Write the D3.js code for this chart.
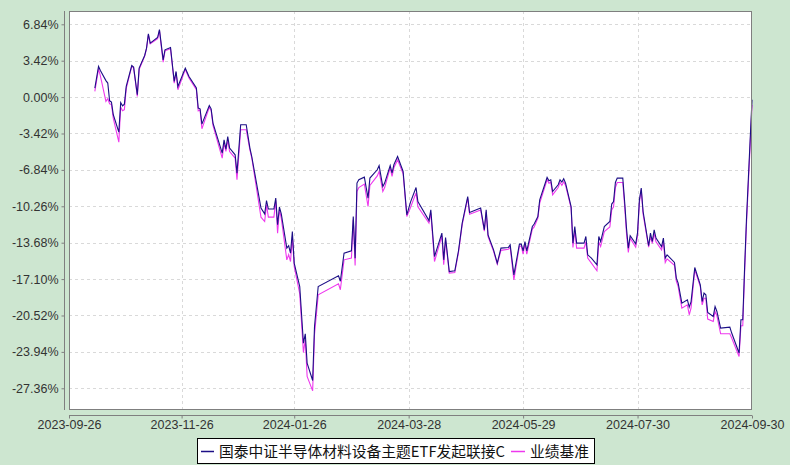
<!DOCTYPE html>
<html><head><meta charset="utf-8">
<script src="https://cdn.jsdelivr.net/npm/d3@7"></script>
<style>
html,body{margin:0;padding:0;background:#cde6d0;}
svg{display:block;}
</style></head>
<body>
<svg id="chart" width="790" height="465"></svg>
<script>
const dates = ["2023-10-10","2023-10-12","2023-10-13","2023-10-16","2023-10-17","2023-10-18","2023-10-19","2023-10-20","2023-10-23","2023-10-24","2023-10-25","2023-10-26","2023-10-27","2023-10-30","2023-10-31","2023-11-02","2023-11-03","2023-11-06","2023-11-07","2023-11-08","2023-11-09","2023-11-13","2023-11-14","2023-11-16","2023-11-17","2023-11-20","2023-11-22","2023-11-23","2023-11-24","2023-11-28","2023-11-30","2023-12-04","2023-12-05","2023-12-06","2023-12-07","2023-12-11","2023-12-12","2023-12-13","2023-12-18","2023-12-19","2023-12-20","2023-12-21","2023-12-22","2023-12-25","2023-12-26","2023-12-28","2023-12-31","2024-01-02","2024-01-03","2024-01-08","2024-01-10","2024-01-11","2024-01-12","2024-01-15","2024-01-16","2024-01-17","2024-01-18","2024-01-19","2024-01-22","2024-01-23","2024-01-24","2024-01-25","2024-01-26","2024-01-29","2024-01-31","2024-02-01","2024-02-02","2024-02-05","2024-02-06","2024-02-08","2024-02-19","2024-02-20","2024-02-22","2024-02-26","2024-02-27","2024-02-28","2024-02-29","2024-03-01","2024-03-04","2024-03-06","2024-03-07","2024-03-11","2024-03-12","2024-03-14","2024-03-15","2024-03-18","2024-03-19","2024-03-20","2024-03-22","2024-03-25","2024-03-27","2024-03-29","2024-04-01","2024-04-02","2024-04-08","2024-04-09","2024-04-11","2024-04-15","2024-04-16","2024-04-17","2024-04-19","2024-04-22","2024-04-24","2024-04-26","2024-04-29","2024-04-30","2024-05-06","2024-05-08","2024-05-09","2024-05-10","2024-05-13","2024-05-15","2024-05-17","2024-05-21","2024-05-22","2024-05-24","2024-05-27","2024-05-28","2024-05-29","2024-05-30","2024-05-31","2024-06-03","2024-06-04","2024-06-06","2024-06-07","2024-06-11","2024-06-12","2024-06-13","2024-06-14","2024-06-17","2024-06-18","2024-06-19","2024-06-20","2024-06-21","2024-06-24","2024-06-25","2024-06-26","2024-06-27","2024-07-01","2024-07-02","2024-07-03","2024-07-05","2024-07-08","2024-07-09","2024-07-10","2024-07-12","2024-07-15","2024-07-16","2024-07-17","2024-07-18","2024-07-19","2024-07-22","2024-07-23","2024-07-24","2024-07-25","2024-07-26","2024-07-29","2024-07-30","2024-07-31","2024-08-01","2024-08-02","2024-08-05","2024-08-06","2024-08-07","2024-08-08","2024-08-09","2024-08-12","2024-08-13","2024-08-14","2024-08-15","2024-08-19","2024-08-20","2024-08-21","2024-08-23","2024-08-26","2024-08-27","2024-08-28","2024-08-30","2024-09-02","2024-09-03","2024-09-04","2024-09-05","2024-09-06","2024-09-09","2024-09-10","2024-09-11","2024-09-13","2024-09-18","2024-09-19","2024-09-23","2024-09-24","2024-09-25","2024-09-26","2024-09-27","2024-09-30"];

const fundValues = [0.85,2.88,2.50,1.55,1.32,-0.35,-0.47,-1.66,-3.29,-0.51,-0.82,-0.66,1.00,2.97,2.82,0.22,2.72,3.91,4.60,5.95,5.07,5.60,6.35,3.50,4.44,4.66,1.47,2.41,1.00,2.72,1.94,0.85,-1.03,-1.10,-2.54,-0.79,-1.10,-2.44,-5.26,-4.01,-4.89,-3.70,-4.79,-5.42,-7.14,-2.60,-2.60,-4.79,-5.58,-10.43,-10.97,-9.72,-10.52,-10.52,-9.49,-12.00,-10.34,-10.97,-14.19,-13.97,-14.66,-12.63,-15.60,-17.80,-23.12,-22.24,-24.99,-26.63,-21.55,-17.80,-16.79,-17.30,-14.66,-14.44,-11.22,-15.13,-8.08,-7.77,-7.52,-9.49,-7.61,-6.83,-6.43,-8.40,-8.08,-6.43,-7.14,-6.36,-5.58,-6.99,-11.06,-9.87,-8.50,-9.81,-11.60,-10.59,-14.98,-12.78,-15.29,-13.19,-16.39,-16.32,-14.44,-11.84,-9.34,-10.84,-10.43,-12.47,-10.59,-12.94,-14.35,-15.60,-14.19,-14.13,-13.88,-16.70,-13.81,-13.81,-14.44,-13.57,-14.44,-12.16,-11.93,-11.22,-9.65,-7.55,-7.86,-7.77,-8.87,-8.24,-7.77,-7.99,-7.68,-8.08,-10.28,-13.72,-12.16,-13.72,-13.72,-13.10,-14.82,-15.13,-15.76,-13.10,-13.57,-12.16,-11.69,-10.05,-9.81,-8.02,-7.61,-7.61,-9.81,-12.31,-14.19,-13.03,-13.78,-12.72,-9.65,-8.55,-10.75,-13.97,-12.78,-13.57,-12.47,-13.25,-14.04,-13.25,-15.13,-14.82,-15.54,-17.01,-17.48,-19.36,-19.05,-19.73,-19.21,-16.01,-17.64,-19.21,-18.42,-18.58,-20.24,-20.61,-19.68,-20.14,-21.70,-21.61,-22.17,-24.05,-20.92,-20.92,-16.00,-11.50,-0.25];

const benchValues = [0.53,2.65,2.00,-0.40,-0.15,-0.63,-0.70,-2.00,-4.23,-0.94,-1.29,-1.19,0.80,2.90,2.75,0.06,2.60,3.85,4.55,5.85,5.00,5.50,6.25,3.29,4.35,4.55,1.30,2.30,0.69,2.60,1.80,0.70,-1.30,-1.20,-2.98,-0.95,-1.25,-2.65,-5.73,-4.30,-5.11,-4.00,-5.11,-5.73,-7.77,-3.07,-3.07,-4.95,-5.70,-11.28,-11.69,-10.12,-11.28,-11.28,-9.70,-12.78,-10.59,-11.40,-15.29,-14.80,-15.45,-13.10,-15.90,-18.50,-24.00,-22.80,-26.25,-27.60,-22.30,-18.58,-17.54,-18.10,-15.29,-15.13,-11.53,-15.82,-8.87,-8.50,-8.17,-10.28,-8.30,-7.40,-6.99,-8.87,-8.50,-6.64,-7.46,-6.64,-5.90,-7.20,-11.22,-10.37,-9.00,-10.30,-11.84,-10.87,-15.45,-13.03,-15.76,-13.41,-16.54,-16.48,-14.60,-12.00,-9.50,-11.00,-10.60,-12.60,-10.80,-13.10,-14.50,-15.70,-14.40,-14.30,-14.10,-17.17,-14.00,-14.00,-14.75,-13.80,-14.75,-12.40,-12.20,-11.37,-9.96,-7.77,-8.10,-8.00,-9.18,-8.50,-8.00,-8.30,-7.95,-8.30,-10.43,-14.13,-12.50,-14.19,-14.19,-13.60,-15.13,-15.60,-16.32,-13.60,-14.04,-12.63,-12.20,-10.60,-10.30,-8.50,-8.02,-8.02,-10.20,-12.80,-14.60,-13.25,-14.10,-13.00,-9.90,-8.70,-11.00,-14.10,-13.10,-13.75,-12.80,-13.60,-14.35,-13.60,-15.54,-15.20,-15.80,-17.30,-17.80,-19.83,-19.52,-20.45,-19.80,-16.23,-17.80,-19.52,-18.90,-18.90,-20.86,-21.08,-20.14,-20.55,-22.24,-22.24,-22.64,-24.37,-21.49,-21.49,-16.50,-12.00,-0.73];

const yTicks = [6.84,3.42,0.00,-3.42,-6.84,-10.26,-13.68,-17.10,-20.52,-23.94,-27.36];
const xTickLabels = ["2023-09-26","2023-11-26","2024-01-26","2024-03-28","2024-05-29","2024-07-30","2024-09-30"];
const seriesNames = ["国泰中证半导体材料设备主题ETF发起联接C","业绩基准"];
const seriesColors = ["#1c0f86","#ee38ee"];

const parse = d3.timeParse("%Y-%m-%d");
const fundData = dates.map((d,i)=>({date:parse(d), v:fundValues[i]}));
const benchData = dates.map((d,i)=>({date:parse(d), v:benchValues[i]}));

const L=69, R=752, T=11, B=410;
const svg = d3.select("#chart");
svg.append("rect").attr("width",790).attr("height",465).attr("fill","#cde6d0");

const x = d3.scaleTime().domain([parse(xTickLabels[0]), parse(xTickLabels[xTickLabels.length-1])]).range([L,R]);
const y = d3.scaleLinear().domain([-29.40, 8.09]).range([B,T]);

// plot background
svg.append("rect").attr("x",L).attr("y",T).attr("width",R-L).attr("height",B-T).attr("fill","#ffffff");

// grid
const grid = svg.append("g");
grid.selectAll("line.h").data(yTicks).enter().append("line")
  .attr("x1",L).attr("x2",R).attr("y1",d=>Math.round(y(d))+0.5).attr("y2",d=>Math.round(y(d))+0.5)
  .attr("stroke","#d9d9d9").attr("stroke-dasharray","3,3");
grid.selectAll("line.v").data(xTickLabels.slice(1,-1)).enter().append("line")
  .attr("y1",T).attr("y2",B).attr("x1",d=>Math.round(x(parse(d)))+0.5).attr("x2",d=>Math.round(x(parse(d)))+0.5)
  .attr("stroke","#d9d9d9").attr("stroke-dasharray","3,3");

// lines
const line = d3.line().x(d=>x(d.date)).y(d=>y(d.v));
svg.append("path").datum(benchData).attr("d",line).attr("fill","none").attr("stroke",seriesColors[1]).attr("stroke-width",1.1);
svg.append("path").datum(fundData).attr("d",line).attr("fill","none").attr("stroke",seriesColors[0]).attr("stroke-width",1.1);

// frame
svg.append("rect").attr("x",L+0.5).attr("y",T+0.5).attr("width",R-L-1).attr("height",B-T-1)
  .attr("fill","none").attr("stroke","#7f7f7f");

// y axis
const yAxis = d3.axisLeft(y).tickValues(yTicks).tickSize(3).tickFormat(d=>d.toFixed(2)+"%");
const gy = svg.append("g").attr("transform","translate(64.5,0)").call(yAxis);
gy.select(".domain").attr("d",`M-0,${T}V${B}`).attr("stroke","#7f7f7f");
gy.selectAll(".tick line").attr("stroke","#7f7f7f");
gy.selectAll("text").attr("font-family","'Liberation Sans',Arial,sans-serif").attr("font-size","12.5px").attr("fill","#333").attr("x",-6);

// x axis
const xAxis = d3.axisBottom(x).tickValues(xTickLabels.map(parse)).tickSize(3).tickFormat(d3.timeFormat("%Y-%m-%d"));
const gx = svg.append("g").attr("transform","translate(0,415.5)").call(xAxis);
gx.select(".domain").attr("d",`M${L},0H${R}`).attr("stroke","#7f7f7f");
gx.selectAll(".tick line").attr("stroke","#7f7f7f");
gx.selectAll("text").attr("font-family","'Liberation Sans',Arial,sans-serif").attr("font-size","12.5px").attr("fill","#333").attr("y",5);

// legend
const lg = svg.append("g");
lg.append("rect").attr("x",197.5).attr("y",438.5).attr("width",397).attr("height",25).attr("fill","#fff").attr("stroke","#000");
lg.append("line").attr("x1",201).attr("x2",214).attr("y1",451.5).attr("y2",451.5).attr("stroke",seriesColors[0]).attr("stroke-width",1.5);
lg.append("text").attr("x",219).attr("y",457).text(seriesNames[0])
  .attr("font-family","'Noto Sans CJK SC',sans-serif").attr("font-size","14.5px").attr("fill","#111").attr("textLength",286).attr("lengthAdjust","spacingAndGlyphs");
lg.append("line").attr("x1",511).attr("x2",525).attr("y1",451.5).attr("y2",451.5).attr("stroke",seriesColors[1]).attr("stroke-width",1.5);
lg.append("text").attr("x",530).attr("y",457).text(seriesNames[1])
  .attr("font-family","'Noto Sans CJK SC',sans-serif").attr("font-size","14.5px").attr("fill","#111").attr("textLength",59).attr("lengthAdjust","spacingAndGlyphs");
</script>
</body></html>
